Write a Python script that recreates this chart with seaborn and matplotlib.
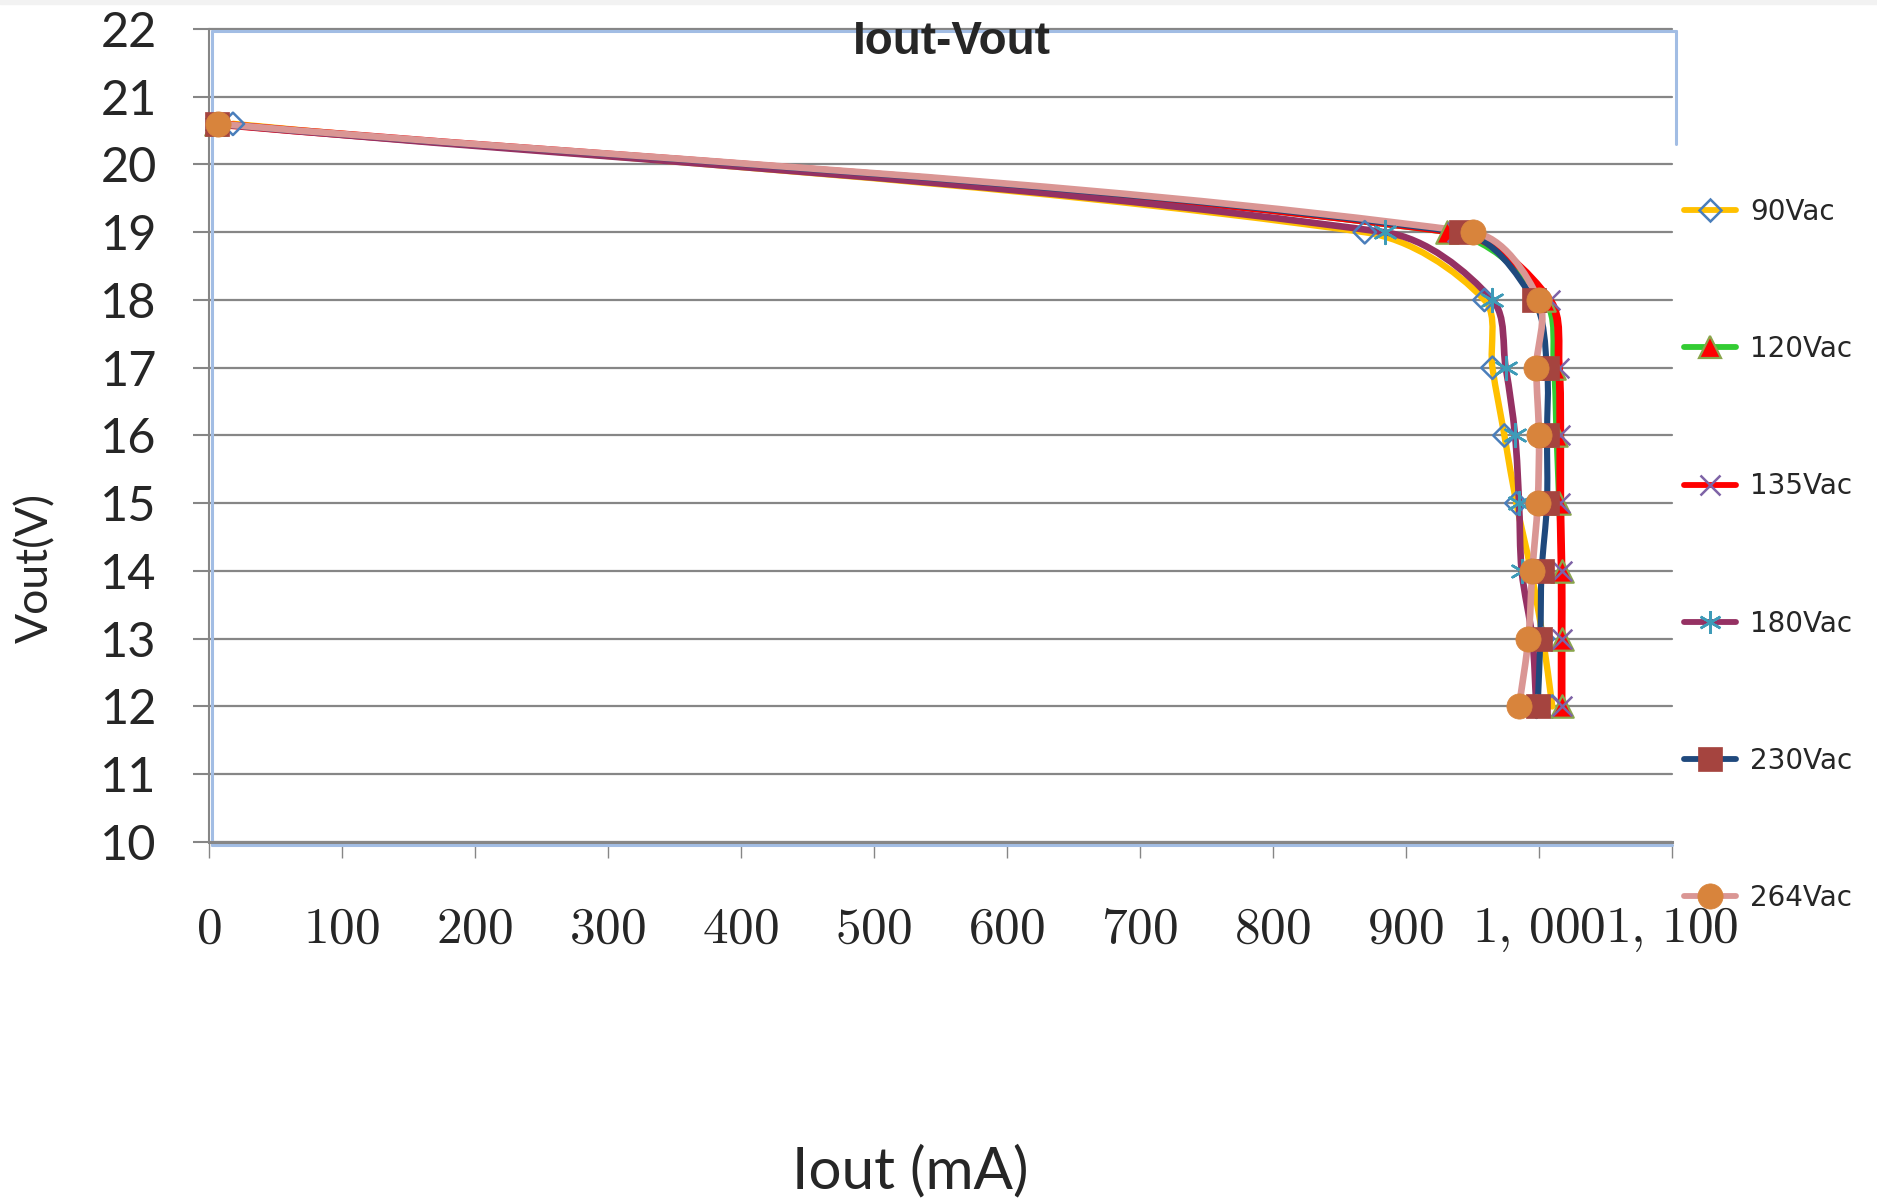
import numpy as np
import pandas as pd
import matplotlib
matplotlib.use("Agg")
import matplotlib.pyplot as plt
from matplotlib.path import Path
from matplotlib.patches import PathPatch, Rectangle
from matplotlib.lines import Line2D
from matplotlib.ticker import FuncFormatter
import seaborn as sns

# Données (Vout en V, Iout en mA)
vout = [20.6, 19, 18, 17, 16, 15, 14, 13, 12]
iout_90 = [18, 869, 959, 965, 974, 983, 994, 1003, 1010]
iout_120 = [5, 931, 1004, 1011, 1013, 1015, 1017, 1017, 1017]
iout_135 = [5, 938, 1008, 1015, 1016, 1016, 1017, 1017, 1017]
iout_180 = [5, 884, 965, 975, 982, 985, 987, 995, 998]
iout_230 = [6, 941, 996, 1006, 1006, 1006, 1002, 1001, 999]
iout_264 = [7, 950, 1000, 998, 1000, 999, 995, 992, 985]

series = ["90Vac", "120Vac", "135Vac", "180Vac", "230Vac", "264Vac"]
courants = [iout_90, iout_120, iout_135, iout_180, iout_230, iout_264]
x_ticks = list(range(0, 1101, 100))
y_ticks = list(range(10, 23))

# Style de chaque série : couleur ligne, épaisseur, marqueur, remplissage, bord, taille
styles = {
    "90Vac": dict(ligne="#FFC000", lw=4.6, marker="D", face="none", bord="#4A7EBB", s=130, mew=1.8),
    "120Vac": dict(ligne="#33CC33", lw=4.0, marker="^", face="#FF0000", bord="#8AA64C", s=260, mew=1.6),
    "135Vac": dict(ligne="#FF0000", lw=5.6, marker="x", face="#7E63A6", bord=None, s=200, mew=1.8),
    "180Vac": dict(ligne="#953163", lw=4.8, marker=(6, 2, 0), face="#3E9BB8", bord=None, s=270, mew=1.8),
    "230Vac": dict(ligne="#1F497D", lw=4.4, marker="s", face="#A5443F", bord="#A5443F", s=320, mew=0.5),
    "264Vac": dict(ligne="#DA9694", lw=4.8, marker="o", face="#D8843C", bord="#D8843C", s=330, mew=0.5),
}

W, H = 1877, 1203
GRIS = "#868686"
BLEU = "#A2BDE4"


def courbe_lisse(ax, xs, ys, **kw):
    """Ligne lissée façon Excel (Bézier), calculée en pixels."""
    pts = ax.transData.transform(np.column_stack([xs, ys]))
    n = len(pts)
    verts = [pts[0]]
    codes = [Path.MOVETO]
    for i in range(n - 1):
        p0 = pts[max(i - 1, 0)]
        p1 = pts[i]
        p2 = pts[i + 1]
        p3 = pts[min(i + 2, n - 1)]
        d01 = np.hypot(*(p1 - p0))
        d12 = np.hypot(*(p2 - p1))
        d23 = np.hypot(*(p3 - p2))
        c1 = p1 + (p2 - p0) * d12 / (d01 + d12) / 3
        c2 = p2 - (p3 - p1) * d12 / (d12 + d23) / 3
        verts += [c1, c2, p2]
        codes += [Path.CURVE4] * 3
    verts = ax.transData.inverted().transform(np.array(verts))
    ax.add_patch(PathPatch(Path(verts, codes), fill=False, capstyle="round",
                           joinstyle="round", **kw))


sns.set_style("white")
plt.rcParams["mathtext.fontset"] = "cm"

fig = plt.figure(figsize=(W / 100, H / 100), dpi=100)
fig.patches.append(Rectangle((0, 1 - 4 / H), 1, 4 / H, transform=fig.transFigure,
                             color="#F2F2F2", zorder=0))
ax = fig.add_axes([209 / W, 1 - 842 / H, 1463 / W, 813 / H])
ax.set_xlim(0, 1100)
ax.set_ylim(10, 22)
ax.set_xticks(x_ticks)
ax.set_yticks(y_ticks)
ax.xaxis.set_major_formatter(
    FuncFormatter(lambda v, p: f"${v:,.0f}$".replace(",", ",\\,")))

ax.grid(axis="y", color=GRIS, lw=1.6)
ax.grid(axis="x", visible=False)
for g in ax.yaxis.get_gridlines():
    g.set_clip_on(False)
ax.set_axisbelow(True)

for cote in ["top", "right"]:
    ax.spines[cote].set_visible(False)
ax.spines["left"].set_color(GRIS)
ax.spines["left"].set_linewidth(1.5)
ax.spines["bottom"].set_color(GRIS)
ax.spines["bottom"].set_linewidth(2.2)

ax.tick_params(axis="y", direction="out", length=11.5, width=1.5, color=GRIS,
               labelsize=35, pad=26, labelfontfamily="Lato", left=True)
ax.tick_params(axis="x", direction="out", length=11.5, width=1.0, color=GRIS,
               labelsize=37, pad=33, bottom=True)

# Cadre bleu clair de la zone de tracé (comme dans l'original)
for xs, ys in [([212, 1676], [31, 31]), ([1676, 1676], [31, 144]),
               ([212, 212], [31, 845]), ([212, 1672], [845, 845])]:
    ax.add_line(Line2D([x / W for x in xs], [1 - y / H for y in ys],
                       transform=fig.transFigure, color=BLEU, lw=2.2,
                       clip_on=False, zorder=1))

# Lignes lissées
for nom, iout in zip(series, courants):
    st = styles[nom]
    courbe_lisse(ax, iout, vout, edgecolor=st["ligne"], lw=st["lw"], zorder=3,
                 clip_on=False)

# Marqueurs
for k, (nom, iout) in enumerate(zip(series, courants)):
    st = styles[nom]
    df = pd.DataFrame({"Iout": iout, "Vout": vout})
    kw = dict(marker=st["marker"], s=st["s"], linewidth=st["mew"], color=st["face"])
    if st["bord"] is not None:
        kw["edgecolor"] = st["bord"]
    sns.scatterplot(data=df, x="Iout", y="Vout", ax=ax, zorder=5 + k,
                    clip_on=False, legend=False, **kw)

ax.set_xlabel("")
ax.set_ylabel("")

fig.text(952 / W, 1 - 42 / H, "Iout-Vout", fontsize=33, fontweight="bold",
         family="Liberation Sans", ha="center", va="center", zorder=10)
fig.text(36 / W, 1 - 568 / H, "Vout(V)", fontsize=32, family="Lato",
         rotation=90, ha="center", va="center")
fig.text(910 / W, 1 - 1172 / H, "Iout (mA)", fontsize=42, family="Lato",
         ha="center", va="center")

# Légende à droite
poignees = []
for nom in series:
    st = styles[nom]
    bord = st["bord"] if st["bord"] is not None else st["face"]
    poignees.append(Line2D([], [], color=st["ligne"], lw=4.2, marker=st["marker"],
                           markersize=np.sqrt(st["s"]),
                           markerfacecolor=st["face"], markeredgecolor=bord,
                           markeredgewidth=st["mew"]))
fig.legend(poignees, series, loc="upper left",
           bbox_to_anchor=(1684 / W, 1 - 198 / H), bbox_transform=fig.transFigure,
           frameon=False, prop={"family": "DejaVu Sans", "size": 20},
           handlelength=1.87, handletextpad=0.5, labelspacing=3.93,
           borderpad=0, borderaxespad=0)

fig.savefig("out.png", dpi=100)
